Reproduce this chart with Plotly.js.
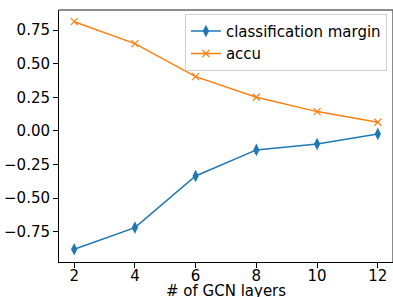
<!DOCTYPE html>
<html>
<head>
<meta charset="utf-8">
<script src="https://cdn.plot.ly/plotly-3.0.1.min.js"></script>
<style>html,body{margin:0;padding:0;background:#fff;}#chart{width:393px;height:297px;}</style>
</head>
<body>
<div id="chart"></div>
<script>
const layers = [2, 4, 6, 8, 10, 12];
const classificationMargin = [-0.880, -0.719, -0.335, -0.141, -0.097, -0.022];
const accu = [0.813, 0.650, 0.404, 0.251, 0.144, 0.065];
const yTicks = [-0.75, -0.5, -0.25, 0, 0.25, 0.5, 0.75];

const traces = [
  {
    x: layers, y: classificationMargin, name: 'classification margin',
    type: 'scatter', mode: 'lines+markers',
    line: {color: '#1f77b4', width: 1.5},
    marker: {symbol: 'diamond-tall', size: 9, color: '#1f77b4'}
  },
  {
    x: layers, y: accu, name: 'accu',
    type: 'scatter', mode: 'lines+markers',
    line: {color: '#ff7f0e', width: 1.5},
    marker: {symbol: 'x-thin', size: 7, color: '#ff7f0e', line: {color: '#ff7f0e', width: 1.2}}
  }
];

const layout = {
  width: 393, height: 297,
  margin: {l: 59, r: 0, t: 10, b: 35},
  paper_bgcolor: '#fff', plot_bgcolor: '#fff',
  font: {family: 'DejaVu Sans', size: 15, color: '#000'},
  showlegend: true,
  legend: {
    x: 0.377, y: 0.985, xanchor: 'left', yanchor: 'top',
    bgcolor: 'rgba(255,255,255,0.8)', bordercolor: '#d0d0d0', borderwidth: 1,
    font: {family: 'DejaVu Sans', size: 15, color: '#000'},
    tracegroupgap: 0
  },
  xaxis: {
    range: [1.5, 12.5], tickvals: layers, ticktext: layers.map(String),
    showgrid: false, zeroline: false,
    showline: true, linecolor: '#000', linewidth: 1,
    ticks: 'outside', ticklen: 5, tickcolor: '#000',
    tickfont: {size: 15}, automargin: false, ticklabelstandoff: -5
  },
  yaxis: {
    range: [-0.975, 0.9], tickvals: yTicks, tickformat: '.2f',
    showgrid: false, zeroline: false,
    showline: true, linecolor: '#000', linewidth: 1,
    ticks: 'outside', ticklen: 5, tickcolor: '#000',
    tickfont: {size: 15}, automargin: false
  },
  annotations: [
    {text: '# of GCN layers', xref: 'paper', yref: 'paper', x: 0.5, y: 0, yshift: -29,
     xanchor: 'center', yanchor: 'middle', showarrow: false, font: {size: 15, color: '#000'}}
  ],
  shapes: [
    {type: 'line', xref: 'paper', yref: 'paper', x0: 0, x1: 1, y0: 1, y1: 1, line: {color: '#666', width: 1.5}},
    {type: 'line', xref: 'paper', yref: 'paper', x0: 1, x1: 1, y0: 0, y1: 1, line: {color: '#666', width: 1.5}}
  ]
};

Plotly.newPlot('chart', traces, layout, {displayModeBar: false, staticPlot: true});
</script>
</body>
</html>
